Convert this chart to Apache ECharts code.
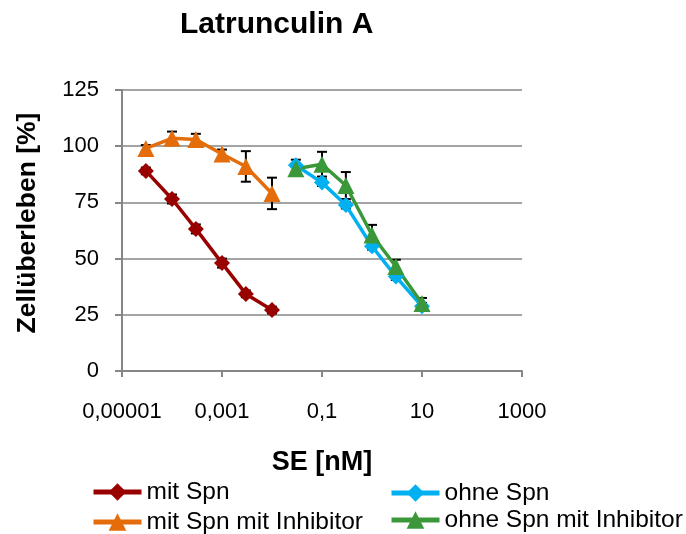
<!DOCTYPE html>
<html><head><meta charset="utf-8">
<script src="https://cdn.jsdelivr.net/npm/echarts@6/dist/echarts.min.js"></script>
<style>html,body{margin:0;padding:0;background:#fff}#c{width:686px;height:534px}</style>
</head><body><div id="c"></div>
<script>
var seriesNames = ['mit Spn', 'mit Spn mit Inhibitor', 'ohne Spn', 'ohne Spn mit Inhibitor'];
var concMit = [0.00003, 0.0001, 0.0003, 0.001, 0.003, 0.01];
var concOhne = [0.03, 0.1, 0.3, 1, 3, 10];
var mitSpn = [89, 76.5, 63.2, 48, 34.3, 27.1];
var mitSpnErr = [1.5, 2, 2, 2, 1.5, 1.5];
var mitSpnInh = [99, 103.5, 103, 96.5, 91, 79];
var mitSpnInhErr = [1.5, 3, 2.5, 2, 6.8, 7];
var ohneSpn = [91.5, 83.8, 73.8, 55.5, 42, 28.8];
var ohneSpnErr = [2.5, 1.5, 1.5, 1.5, 1.5, 1.5];
var ohneSpnInh = [90, 92, 82.5, 60.5, 46.5, 30];
var ohneSpnInhErr = [2.5, 5.5, 6, 4.5, 3, 2.5];
var xTickValues = [0.00001, 0.001, 0.1, 10, 1000];
var xTickLabels = ['0,00001', '0,001', '0,1', '10', '1000'];
var colors = ['#990000', '#E46C0A', '#00B0F0', '#3A983A'];

function lg(v){ return Math.log10(v); }
function pts(xs, ys){ return xs.map(function(x,i){ return [lg(x), ys[i]]; }); }
function errPts(xs, ys, es){ return xs.map(function(x,i){ return [lg(x), ys[i], es[i]]; }); }

var labelMap = {};
xTickValues.forEach(function(v,i){ labelMap[Math.round(lg(v))] = xTickLabels[i]; });

var FONT = 'Liberation Sans';
var chart = echarts.init(document.getElementById('c'), null, {renderer:'canvas'});

function lineSeries(name, data, color, symbol, size){
  return {
    name: name, type: 'line', data: data, symbol: symbol, symbolSize: size,
    lineStyle: {color: color, width: 3.5}, itemStyle: {color: color},
    z: 3, animation: false
  };
}
function errSeries(data){
  return {
    type: 'custom', data: data, z: 2, silent: true, animation: false,
    renderItem: function(params, api){
      var x = api.value(0), y = api.value(1), e = api.value(2);
      var top = api.coord([x, y + e]), bot = api.coord([x, y - e]);
      var cw = 5;
      var st = {stroke: '#000', lineWidth: 2};
      return {type: 'group', children: [
        {type:'line', shape:{x1: top[0], y1: top[1], x2: bot[0], y2: bot[1]}, style: st},
        {type:'line', shape:{x1: top[0]-cw, y1: top[1], x2: top[0]+cw, y2: top[1]}, style: st},
        {type:'line', shape:{x1: bot[0]-cw, y1: bot[1], x2: bot[0]+cw, y2: bot[1]}, style: st}
      ]};
    }
  };
}

function makeLegend(name, left, top){
  return {
    data: [name], left: left, top: top, padding: 0,
    itemWidth: 48, itemHeight: 22,
    textStyle: {fontFamily: FONT, fontSize: 24.5, color: '#000', lineHeight: 26},
    lineStyle: {width: 5}
  };
}

chart.setOption({
  animation: false,
  title: {text: 'Latrunculin A', left: 175, top: 5, padding: 5,
    textStyle: {fontFamily: FONT, fontWeight: 'bold', fontSize: 30, color: '#000'}},
  grid: {left: 122, right: 164, top: 90, bottom: 163},
  legend: [
    makeLegend(seriesNames[0], 91, 479),
    makeLegend(seriesNames[1], 91, 509),
    makeLegend(seriesNames[2], 389, 480),
    makeLegend(seriesNames[3], 389, 507)
  ],
  xAxis: {
    type: 'value', min: -5, max: 3, interval: 2,
    name: 'SE [nM]', nameLocation: 'middle', nameGap: 78,
    nameTextStyle: {fontFamily: FONT, fontWeight: 'bold', fontSize: 27, color: '#000'},
    axisLine: {lineStyle: {color: '#868686', width: 2}},
    axisTick: {show: true, length: 6, lineStyle: {color: '#868686', width: 2}},
    splitLine: {show: false},
    axisLabel: {margin: 30, fontFamily: FONT, fontSize: 22, color: '#000',
      formatter: function(v){ return labelMap[Math.round(v)] || ''; }}
  },
  yAxis: {
    type: 'value', min: 0, max: 125, interval: 25,
    name: 'Zellüberleben [%]', nameLocation: 'middle', nameGap: 81,
    nameTextStyle: {fontFamily: FONT, fontWeight: 'bold', fontSize: 26.5, color: '#000', padding: [0,0,0,15]},
    axisLine: {show: true, onZero: false, lineStyle: {color: '#868686', width: 2}},
    axisTick: {show: true, length: 7, lineStyle: {color: '#868686', width: 2}},
    splitLine: {lineStyle: {color: '#868686', width: 1.5}},
    axisLabel: {margin: 23, fontFamily: FONT, fontSize: 22, color: '#000'}
  },
  series: [
    errSeries(errPts(concMit, mitSpn, mitSpnErr)),
    errSeries(errPts(concMit, mitSpnInh, mitSpnInhErr)),
    errSeries(errPts(concOhne, ohneSpn, ohneSpnErr)),
    errSeries(errPts(concOhne, ohneSpnInh, ohneSpnInhErr)),
    lineSeries(seriesNames[0], pts(concMit, mitSpn), colors[0], 'diamond', 16),
    lineSeries(seriesNames[1], pts(concMit, mitSpnInh), colors[1], 'triangle', 17),
    lineSeries(seriesNames[2], pts(concOhne, ohneSpn), colors[2], 'diamond', 16),
    lineSeries(seriesNames[3], pts(concOhne, ohneSpnInh), colors[3], 'triangle', 17)
  ]
});
</script></body></html>
